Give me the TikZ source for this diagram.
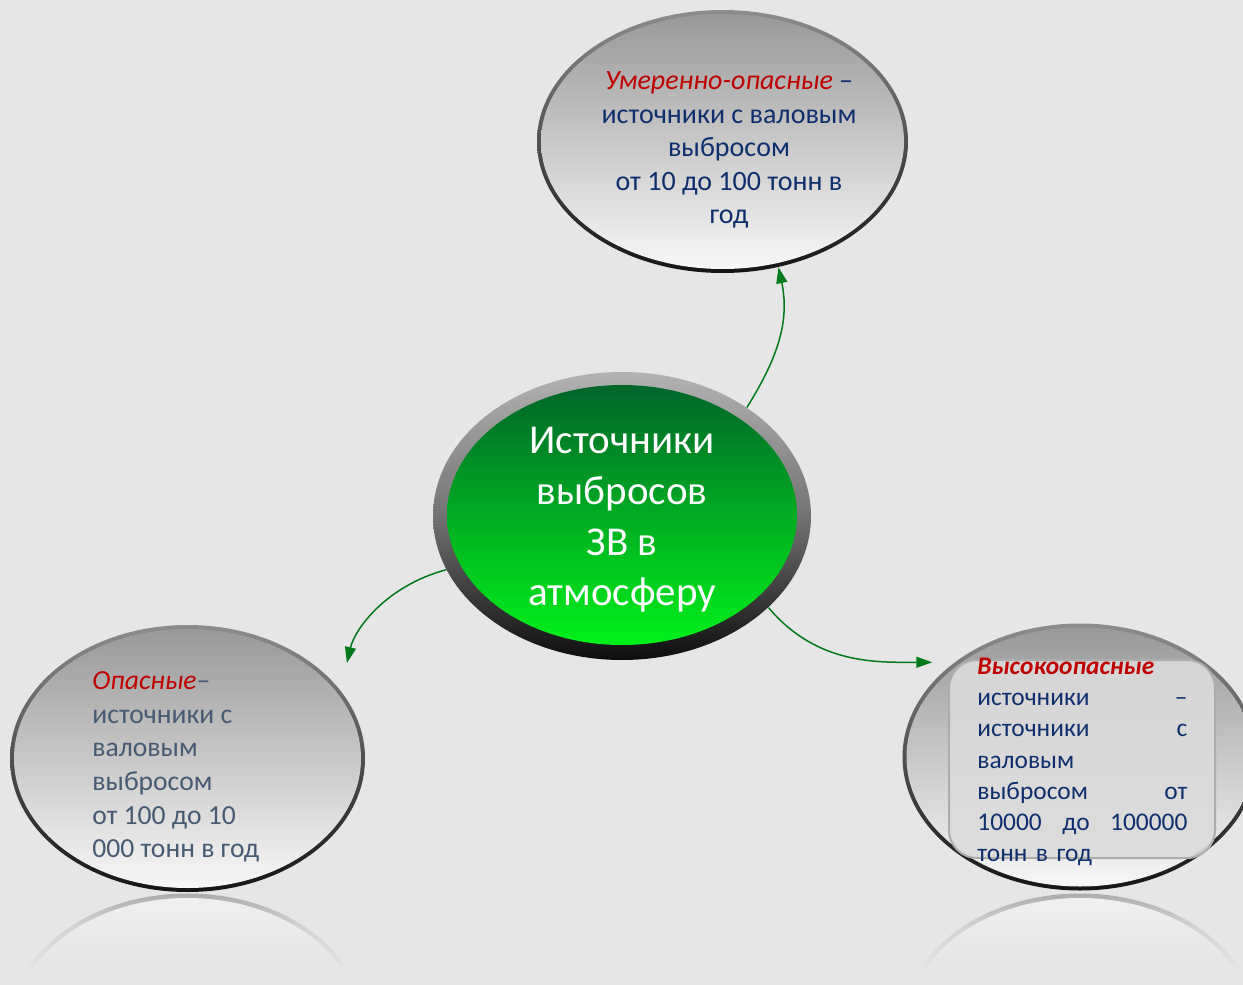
\documentclass[tikz,border=0pt]{standalone}
\usepackage{fontspec}
\setmainfont{Carlito}
\usetikzlibrary{arrows.meta,shapes.geometric}

\definecolor{backdrop}{HTML}{E6E6E6}
\definecolor{leafgreen}{HTML}{00652A}
\definecolor{limegreen}{HTML}{00F21A}
\definecolor{inknavy}{HTML}{0F2E6E}
\definecolor{slate}{HTML}{475A72}
\definecolor{alarm}{HTML}{C00000}
\definecolor{arrowgreen}{HTML}{007A1A}

% vertical fades, read from bottom (25bp) to top (75bp) of the shape
\pgfdeclareverticalshading{bubblefade}{100bp}{color(0bp)=(white!97!black); color(25bp)=(white!97!black);
  color(75bp)=(black!40); color(100bp)=(black!40)}
\pgfdeclareverticalshading{rimfade}{100bp}{color(0bp)=(black!92); color(25bp)=(black!92);
  color(75bp)=(black!45); color(100bp)=(black!45)}
\pgfdeclareverticalshading{hubrimfade}{100bp}{color(0bp)=(black!95); color(25bp)=(black!95);
  color(50bp)=(black!55); color(75bp)=(black!30); color(100bp)=(black!30)}
\pgfdeclareverticalshading{hubfade}{100bp}{color(0bp)=(limegreen); color(25bp)=(limegreen);
  color(75bp)=(leafgreen); color(100bp)=(leafgreen)}
\pgfdeclareverticalshading{echofade}{100bp}{color(0bp)=(backdrop); color(60bp)=(backdrop);
  color(69bp)=(black!18); color(75bp)=(black!32); color(100bp)=(black!32)}
\pgfdeclareverticalshading{echoinfade}{100bp}{color(0bp)=(backdrop); color(63bp)=(backdrop);
  color(75bp)=(white!94!black); color(100bp)=(white!94!black)}

\tikzset{
  rim/.style={ellipse, inner sep=0pt, shading=rimfade},
  bubble/.style={ellipse, inner sep=0pt, shading=bubblefade},
  hub rim/.style={ellipse, inner sep=0pt, shading=hubrimfade},
  hub/.style={ellipse, inner sep=0pt, shading=hubfade},
  echo/.style={ellipse, inner sep=0pt, shading=echofade},
  echo in/.style={ellipse, inner sep=0pt, shading=echoinfade},
  panel/.style={rectangle, rounded corners=14pt, fill=white!86!black, fill opacity=0.9, draw=black!32, line width=1pt},
  note/.style={inner sep=0pt},
  link/.style={draw=arrowgreen, line width=0.75pt, ->}
}

\begin{document}
\begin{tikzpicture}[x=0.5pt,y=-0.5pt,>={Triangle[length=8pt,width=5.5pt]}]
  \useasboundingbox (0,0) rectangle (1243,985);
  \clip (0,0) rectangle (1243,985);
  \fill[backdrop] (0,0) rectangle (1243,985);

  % reflections under the lower bubbles
  \node[echo, minimum width=177.5pt, minimum height=133.5pt] (danger echo) at (187.5,1027) {};
  \node[echo in, minimum width=173pt, minimum height=129pt] (danger echo in) at (danger echo.center) {};
  \node[echo, minimum width=177.5pt, minimum height=133.5pt] (severe echo) at (1080,1027) {};
  \node[echo in, minimum width=173pt, minimum height=129pt] (severe echo in) at (severe echo.center) {};

  % bubbles
  \node[rim, minimum width=185.5pt, minimum height=131.5pt] (mild) at (722.5,141.5) {};
  \node[bubble, minimum width=181.5pt, minimum height=127.5pt] (mild in) at (mild.center) {};
  \node[rim, minimum width=177.5pt, minimum height=133.5pt] (danger) at (187.5,758.5) {};
  \node[bubble, minimum width=173.5pt, minimum height=129.5pt] (danger in) at (danger.center) {};
  \node[rim, minimum width=177.5pt, minimum height=133.5pt] (severe) at (1080,757) {};
  \node[bubble, minimum width=173.5pt, minimum height=129.5pt] (severe in) at (severe.center) {};
  \node[panel, minimum width=133pt, minimum height=99pt] (severe panel) at (1082,759) {};

  % centre
  \node[hub rim, minimum width=189pt, minimum height=144pt] (core) at (622,516) {};
  \node[hub, minimum width=175pt, minimum height=130pt] (core in) at (622,515) {};

  % texts
  \node[note, font=\fontsize{14}{16.8}\selectfont, text=inknavy, align=center] (mild txt) at (729,150)
    {\textcolor{alarm}{\textit{Умеренно-опасные}} –\\источники с валовым\\выбросом\\от 10 до 100 тонн в\\год};
  \node[note, font=\fontsize{20.5}{25.3}\selectfont, text=white, align=center] (core txt) at (622,520)
    {Источники\\выбросов\\ЗВ в\\атмосферу};
  \node[note, font=\fontsize{13.8}{16.8}\selectfont, text=slate, align=left, anchor=west] (danger txt) at (92,767)
    {\textcolor{alarm}{\textit{Опасные}}–\\источники с\\валовым\\выбросом\\от 100 до 10\\000 тонн в год};
  \node[note, font=\fontsize{12.7}{15.6}\selectfont, text=inknavy, align=left, text width=105pt, anchor=west] (severe txt) at (977,762)
    {\textcolor{alarm}{\textbf{\textit{Высокоопасные}}}\\источники\hspace{\fill}–\\источники\hspace{\fill}с\\валовым\\выбросом\hspace{\fill}от\\10000\hspace{\fill}до\hspace{\fill}100000\\тонн в год};

  % connectors
  \draw[link] (core.41) to[out=58,in=-78] (mild.-66);
  \draw[link, shorten >=14pt] (core.197) to[out=195,in=77] (danger.24);
  \draw[link, shorten >=11pt] (core.-32) to[out=-50,in=180] (severe.143);
\end{tikzpicture}
\end{document}
